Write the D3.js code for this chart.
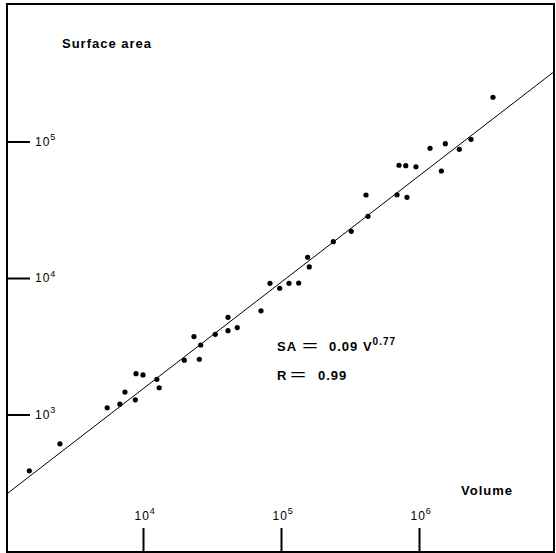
<!DOCTYPE html>
<html lang="en">
<head>
<meta charset="utf-8">
<title>Surface area vs volume</title>
<script src="https://d3js.org/d3.v7.min.js"></script>
<style>
body { margin: 0; background: #fff; }
svg { display: block; }
text { font-family: "Liberation Sans", Arial, sans-serif; fill: #000; }
.tick text { font-size: 12px; letter-spacing: 1.2px; }
.lab { font-size: 13px; font-weight: bold; letter-spacing: 1px; }
</style>
</head>
<body>
<div id="chart"></div>
<script>
// points: volume and surface area
var volume = [1500, 2500, 5500, 6800, 7400, 8800, 8900, 10000, 12600, 13100,
  19900, 23400, 25600, 26200, 33400, 41300, 41300, 48200, 71600, 83200,
  97900, 114300, 134300, 156000, 160300, 239300, 322800, 413000, 426600, 693400,
  818500, 716100, 801700, 950600, 1202000, 1452000, 1552000, 1959000, 2382000, 3436000];
var surface = [387, 610, 1120, 1190, 1460, 1280, 1990, 1950, 1810, 1570,
  2500, 3720, 2540, 3230, 3870, 5150, 4110, 4330, 5750, 9140,
  8410, 9140, 9180, 14190, 12050, 18450, 21980, 40550, 28310, 40740,
  38990, 66990, 66530, 65310, 89130, 60810, 96380, 87700, 103700, 210900];

// fitted line as drawn (coefficient / exponent in plot units)
var fitCoef = 1.17, fitExp = 0.78;

var xTicks = [1e4, 1e5, 1e6];
var yTicks = [1e3, 1e4, 1e5];

var W = 556, H = 553;
var frame = {left: 7, top: 4, right: 554, bottom: 552};

var svg = d3.select("#chart").append("svg")
  .attr("width", W).attr("height", H);

var x = d3.scaleLog().domain([1e3, 1e7]).range([5, 557]);
var y = d3.scaleLog().domain([1e2, 1e6]).range([551, 5]);

svg.append("clipPath").attr("id", "clip")
  .append("rect")
    .attr("x", frame.left).attr("y", frame.top)
    .attr("width", frame.right - frame.left)
    .attr("height", frame.bottom - frame.top);

// frame
svg.append("rect")
  .attr("x", frame.left).attr("y", frame.top)
  .attr("width", frame.right - frame.left)
  .attr("height", frame.bottom - frame.top)
  .attr("fill", "none").attr("stroke", "#000").attr("stroke-width", 2);

function powerLabel(sel, dy) {
  sel.each(function(d) {
    var t = d3.select(this);
    t.append("tspan").text("10");
    t.append("tspan").attr("dy", dy).attr("font-size", "9px").attr("dx", -0.5)
      .text(Math.round(Math.log10(d)));
  });
}

// left axis, ticks pointing inward
var yAxis = svg.append("g")
  .attr("transform", "translate(" + frame.left + ",0)")
  .call(d3.axisRight(y).tickValues(yTicks).tickSize(23).tickFormat(function() { return ""; }));
yAxis.select(".domain").remove();
yAxis.selectAll(".tick line").attr("stroke", "#000").attr("stroke-width", 2);
yAxis.selectAll(".tick text").remove();
yAxis.selectAll(".tick").append("text")
  .attr("x", 28).attr("y", 3.5)
  .attr("text-anchor", "start")
  .call(powerLabel, -5.5);

// bottom axis, ticks pointing up
var xAxis = svg.append("g")
  .attr("transform", "translate(0," + frame.bottom + ")")
  .call(d3.axisTop(x).tickValues(xTicks).tickSize(24).tickFormat(function() { return ""; }));
xAxis.select(".domain").remove();
xAxis.selectAll(".tick line").attr("stroke", "#000").attr("stroke-width", 2);
xAxis.selectAll(".tick text").remove();
xAxis.selectAll(".tick").append("text")
  .attr("x", -9).attr("y", -32.5)
  .attr("text-anchor", "start")
  .call(powerLabel, -6);

// regression line
var v0 = x.invert(frame.left), v1 = x.invert(frame.right);
var lineData = [v0, v1].map(function(v) { return [v, fitCoef * Math.pow(v, fitExp)]; });
svg.append("path")
  .datum(lineData)
  .attr("clip-path", "url(#clip)")
  .attr("fill", "none").attr("stroke", "#000").attr("stroke-width", 1)
  .attr("d", d3.line().x(function(d) { return x(d[0]); }).y(function(d) { return y(d[1]); }));

// points
svg.append("g").selectAll("circle")
  .data(volume)
  .enter().append("circle")
    .attr("cx", function(d) { return x(d); })
    .attr("cy", function(d, i) { return y(surface[i]); })
    .attr("r", 2.6)
    .attr("fill", "#000");

// labels
svg.append("text").attr("class", "lab").attr("x", 62).attr("y", 48).text("Surface area");
svg.append("text").attr("class", "lab").attr("x", 461).attr("y", 495).text("Volume");

function eqSign(xp, yp) {
  svg.append("text").attr("x", xp).attr("y", yp)
    .attr("font-size", "17px")
    .attr("textLength", 16).attr("lengthAdjust", "spacingAndGlyphs")
    .text("=");
}

var eq = svg.append("text").attr("class", "lab").attr("x", 277).attr("y", 351);
eq.append("tspan").text("SA");
eq.append("tspan").attr("x", 329).text("0.09 V");
eq.append("tspan").attr("dy", -6.5).attr("dx", 0).attr("font-size", "10px").text("0.77");
eqSign(302, 351);

var rr = svg.append("text").attr("class", "lab").attr("x", 277).attr("y", 380);
rr.append("tspan").text("R");
rr.append("tspan").attr("x", 318).text("0.99");
eqSign(290, 380);
</script>
</body>
</html>
